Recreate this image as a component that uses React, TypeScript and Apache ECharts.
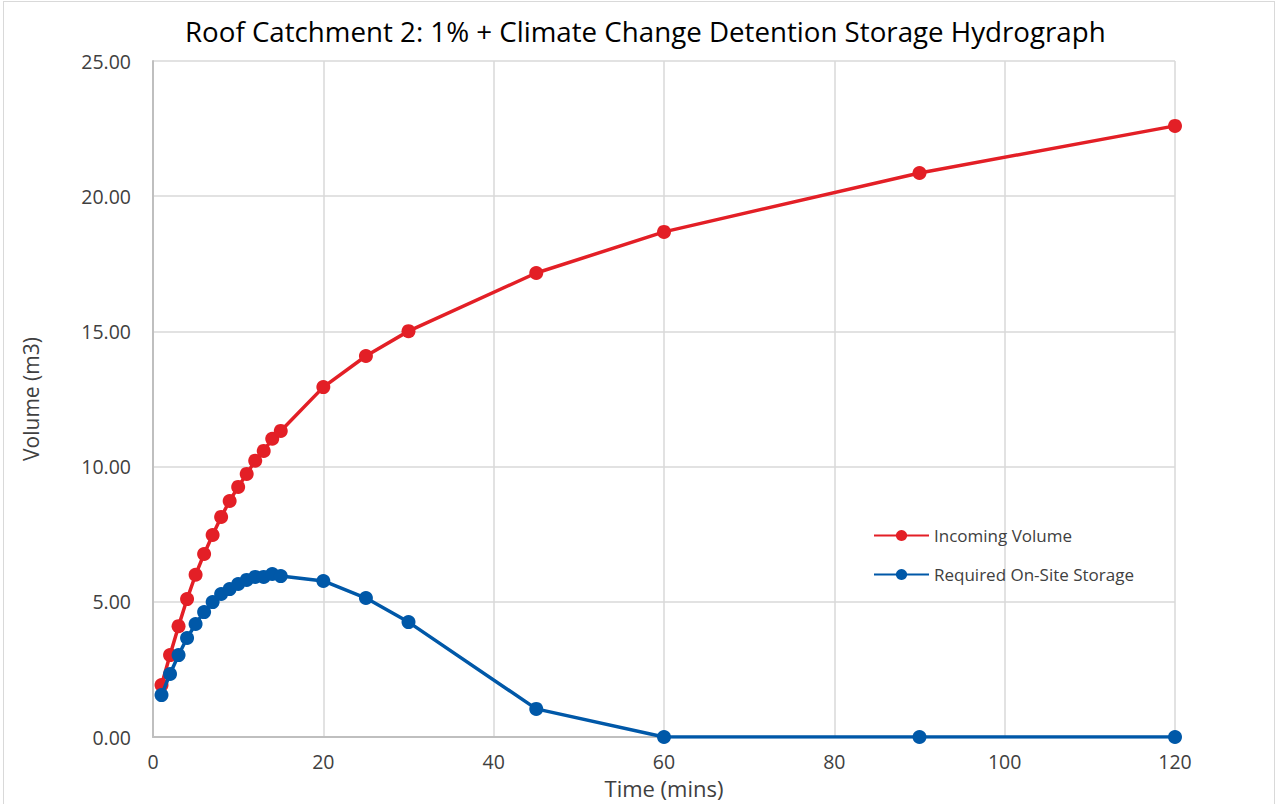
import React, { useEffect, useRef } from "react";
import * as echarts from "echarts";

const timeMins = [1, 2, 3, 4, 5, 6, 7, 8, 9, 10, 11, 12, 13, 14, 15, 20, 25, 30, 45, 60, 90, 120];
const incomingVolume = [1.92, 3.03, 4.1, 5.1, 6.0, 6.77, 7.47, 8.14, 8.73, 9.25, 9.73, 10.22, 10.58, 11.03, 11.32, 12.94, 14.09, 15.01, 17.16, 18.68, 20.86, 22.6];
const requiredStorage = [1.55, 2.33, 3.03, 3.66, 4.18, 4.62, 4.99, 5.29, 5.47, 5.66, 5.81, 5.92, 5.92, 6.03, 5.95, 5.77, 5.14, 4.25, 1.04, 0, 0, 0];
const titleText = "Roof Catchment 2: 1% + Climate Change Detention Storage Hydrograph";
const seriesNames = ["Incoming Volume", "Required On-Site Storage"];

export default function App() {
  const ref = useRef<HTMLDivElement>(null);
  useEffect(() => {
    if (!ref.current) return;
    const chart = echarts.init(ref.current, null, { renderer: "svg" });
    const font = "Open Sans, Liberation Sans, sans-serif";
    chart.setOption({
      animation: false,
      backgroundColor: "#ffffff",
      title: {
        text: titleText,
        left: 180,
        top: 12,
        textStyle: { fontFamily: font, fontSize: 27.7, fontWeight: "normal", color: "#000000" },
      },
      legend: {
        orient: "vertical",
        left: 868,
        top: 522,
        itemWidth: 55,
        itemHeight: 14,
        itemGap: 22,
        textStyle: { fontFamily: font, fontSize: 17, color: "#404040" },
        data: seriesNames,
      },
      grid: { left: 153, right: 101, top: 61, bottom: 67 },
      xAxis: {
        type: "value",
        min: 0,
        max: 120,
        interval: 20,
        name: "Time (mins)",
        nameLocation: "middle",
        nameGap: 40,
        nameTextStyle: { fontFamily: font, fontSize: 22, color: "#404040" },
        axisLine: { lineStyle: { color: "#bfbfbf", width: 2 } },
        axisTick: { show: false },
        axisLabel: { fontFamily: font, fontSize: 19.5, color: "#404040", margin: 14 },
        splitLine: { show: true, lineStyle: { color: "#d9d9d9", width: 1.5 } },
      },
      yAxis: {
        type: "value",
        min: 0,
        max: 25,
        interval: 5,
        name: "Volume (m3)",
        nameLocation: "middle",
        nameGap: 112,
        nameTextStyle: { fontFamily: font, fontSize: 21, color: "#404040" },
        axisLine: { show: true, lineStyle: { color: "#bfbfbf", width: 2 } },
        axisTick: { show: false },
        axisLabel: {
          fontFamily: font,
          fontSize: 19.5,
          color: "#404040",
          margin: 22,
          formatter: (v: number) => v.toFixed(2),
        },
        splitLine: { show: true, lineStyle: { color: "#d9d9d9", width: 1.5 } },
      },
      series: [
        {
          name: seriesNames[0],
          type: "line",
          data: timeMins.map((t, i) => [t, incomingVolume[i]]),
          symbol: "circle",
          symbolSize: 14,
          itemStyle: { color: "#e31f26" },
          lineStyle: { color: "#e31f26", width: 3.5 },
          z: 2,
        },
        {
          name: seriesNames[1],
          type: "line",
          data: timeMins.map((t, i) => [t, requiredStorage[i]]),
          symbol: "circle",
          symbolSize: 14,
          itemStyle: { color: "#0058a8" },
          lineStyle: { color: "#0058a8", width: 3.5 },
          z: 3,
        },
      ],
    });
    return () => chart.dispose();
  }, []);
  return (
    <div
      style={{
        position: "fixed",
        left: 0,
        top: 0,
        width: 1276,
        height: 804,
        background: "#fff",
      }}
    >
      <div
        style={{
          position: "absolute",
          left: 3,
          top: 1,
          width: 1272,
          height: 803,
          boxSizing: "border-box",
          border: "1px solid #d9d9d9",
          borderBottom: "none",
          pointerEvents: "none",
          zIndex: 2,
        }}
      />
      <div ref={ref} style={{ width: 1276, height: 804 }} />
    </div>
  );
}
